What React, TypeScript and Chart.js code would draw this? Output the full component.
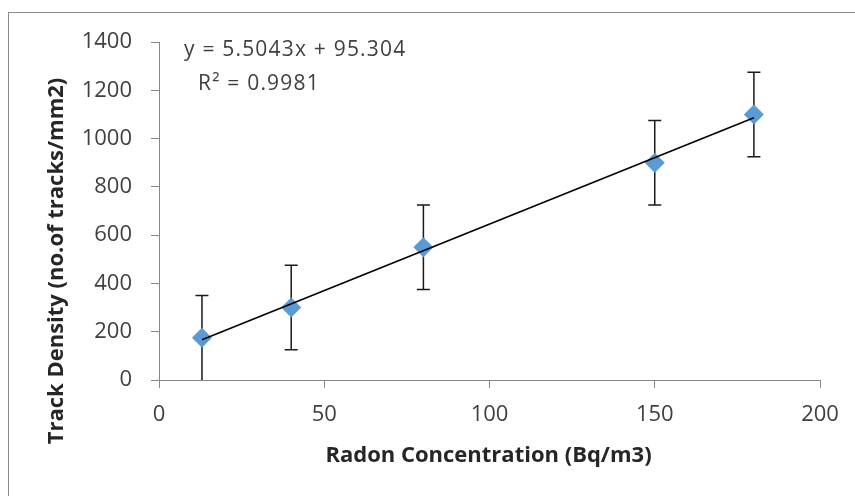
import React, { useEffect, useRef } from "react";
import { Chart, registerables } from "chart.js";

Chart.register(...registerables);

// Data
const radonConcentration = [13, 40, 80, 150, 180];
const trackDensity = [175, 300, 550, 900, 1100];
const errorValues = [175, 175, 175, 175, 175];
const trendSlope = 5.5043;
const trendIntercept = 95.304;
const equationLabel = "y = 5.5043x + 95.304";
const r2Label = "R\u00B2 = 0.9981";
const xTitle = "Radon Concentration (Bq/m3)";
const yTitle = "Track Density (no.of tracks/mm2)";

const FONT = "'Open Sans', sans-serif";

const errorBarPlugin = {
  id: "errorBars",
  beforeDatasetsDraw(chart: any) {
    const { ctx, scales } = chart;
    const xs = scales.x;
    const ys = scales.y;
    ctx.save();
    ctx.strokeStyle = "#1a1a1a";
    ctx.lineWidth = 1.5;
    const cap = 6.5;
    radonConcentration.forEach((xv, i) => {
      const px = xs.getPixelForValue(xv);
      const top = ys.getPixelForValue(trackDensity[i] + errorValues[i]);
      const bot = ys.getPixelForValue(Math.max(0, trackDensity[i] - errorValues[i]));
      ctx.beginPath();
      ctx.moveTo(px, top);
      ctx.lineTo(px, bot);
      ctx.moveTo(px - cap, top);
      ctx.lineTo(px + cap, top);
      if (trackDensity[i] - errorValues[i] > 0) {
        ctx.moveTo(px - cap, bot);
        ctx.lineTo(px + cap, bot);
      }
      ctx.stroke();
    });
    ctx.restore();
  },
};

const textPlugin = {
  id: "textLabels",
  afterDraw(chart: any) {
    const { ctx, chartArea } = chart;
    ctx.save();
    // equation
    ctx.fillStyle = "#404040";
    ctx.font = `21px ${FONT}`;
    ctx.textAlign = "left";
    ctx.textBaseline = "alphabetic";
    try {
      (ctx as any).letterSpacing = "1.2px";
    } catch (e) {}
    ctx.fillText(equationLabel, chartArea.left + 25, chartArea.top + 14);
    ctx.fillText(r2Label, chartArea.left + 39, chartArea.top + 48);
    try {
      (ctx as any).letterSpacing = "0px";
    } catch (e) {}
    // x title
    ctx.fillStyle = "#262626";
    ctx.font = `bold 22px ${FONT}`;
    ctx.textAlign = "center";
    ctx.fillText(xTitle, (chartArea.left + chartArea.right) / 2 - 1, chartArea.bottom + 82);
    // y title
    ctx.translate(chartArea.left - 102, (chartArea.top + chartArea.bottom) / 2 + 50);
    ctx.rotate(-Math.PI / 2);
    ctx.textBaseline = "middle";
    ctx.fillText(yTitle, 0, 0);
    ctx.restore();
  },
};

export default function App() {
  const ref = useRef<HTMLCanvasElement | null>(null);

  useEffect(() => {
    if (!ref.current) return;
    const xMin = Math.min(...radonConcentration);
    const xMax = Math.max(...radonConcentration);
    const trendPoints = [xMin, xMax].map((x) => ({ x, y: trendSlope * x + trendIntercept }));
    const points = radonConcentration.map((x, i) => ({ x, y: trackDensity[i] }));

    const axisColor = "#868686";
    const chart = new Chart(ref.current, {
      type: "scatter",
      data: {
        datasets: [
          {
            type: "line",
            label: "Trend",
            data: trendPoints,
            borderColor: "#000000",
            borderWidth: 1.6,
            pointRadius: 0,
            fill: false,
            order: 0,
          } as any,
          {
            label: "Track Density",
            data: points,
            pointStyle: "rectRot",
            pointRadius: 10,
            pointBackgroundColor: "#5b9bd5",
            pointBorderColor: "#5b9bd5",
            pointBorderWidth: 0,
            order: 1,
          },
        ],
      },
      options: {
        animation: false,
        responsive: false,
        devicePixelRatio: 1,
        layout: { padding: { left: 0, right: 35, top: 29, bottom: 0 } },
        plugins: {
          legend: { display: false },
          tooltip: { enabled: false },
          title: { display: false },
        },
        scales: {
          x: {
            type: "linear",
            min: 0,
            max: 200,
            ticks: {
              stepSize: 50,
              color: "#404040",
              font: { family: FONT, size: 22 },
              padding: 14,
              maxRotation: 0,
              callback: (v: any) => String(v),
            },
            grid: {
              display: true,
              drawOnChartArea: false,
              drawTicks: true,
              tickLength: 8,
              color: axisColor,
            },
            border: { display: true, color: axisColor, width: 1 },
            afterFit(scale: any) {
              scale.height = 116;
              scale.paddingLeft = 0;
              scale.paddingRight = 0;
            },
          },
          y: {
            type: "linear",
            min: 0,
            max: 1400,
            ticks: {
              stepSize: 200,
              color: "#404040",
              font: { family: FONT, size: 22 },
              padding: 19,
              callback: (v: any) => String(v),
            },
            grid: {
              display: true,
              drawOnChartArea: false,
              drawTicks: true,
              tickLength: 8,
              color: axisColor,
            },
            border: { display: true, color: axisColor, width: 1 },
            afterFit(scale: any) {
              scale.width = 150;
              scale.paddingTop = 0;
              scale.paddingBottom = 0;
            },
          },
        },
      },
      plugins: [errorBarPlugin, textPlugin],
    });
    return () => chart.destroy();
  }, []);

  return (
    <div
      style={{
        position: "absolute",
        left: 8,
        top: 12,
        width: 847,
        height: 484,
        overflow: "hidden",
        borderLeft: "1px solid #8c8c8c",
        borderTop: "1px solid #8c8c8c",
        boxSizing: "border-box",
        background: "#ffffff",
      }}
    >
      <canvas ref={ref} width={846} height={483} style={{ display: "block" }} />
    </div>
  );
}
